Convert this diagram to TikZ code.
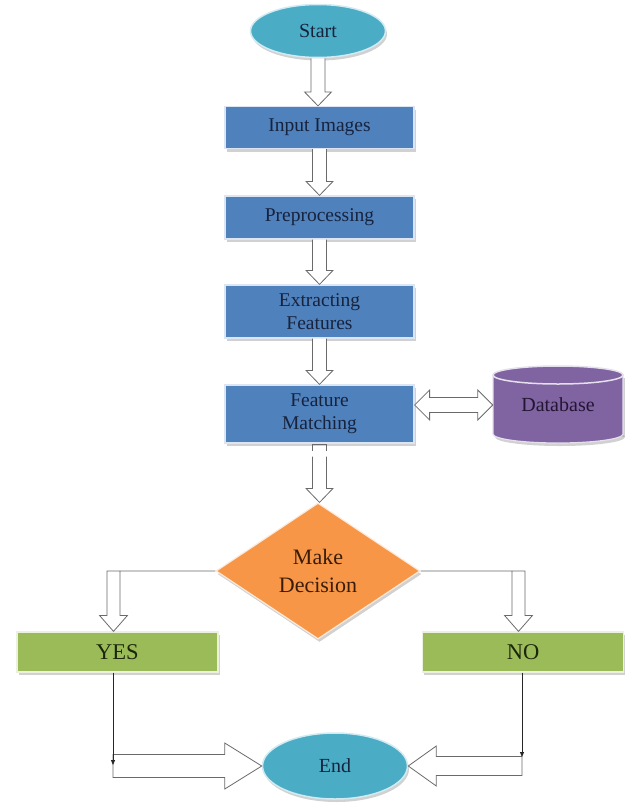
\documentclass[tikz,border=0pt]{standalone}
\usepackage{fontspec}
\setmainfont{LiberationSerif}[Extension=.ttf, UprightFont=*-Regular, BoldFont=*-Bold]
\usetikzlibrary{shapes.geometric,shadows,calc,arrows.meta}
\definecolor{boxblue}{HTML}{4F81BD}
\definecolor{navytext}{HTML}{17233D}
\definecolor{termteal}{HTML}{4BACC6}
\definecolor{dbpurple}{HTML}{8064A2}
\definecolor{dbtext}{HTML}{231533}
\definecolor{decorange}{HTML}{F79646}
\definecolor{dectext}{HTML}{3A1C08}
\definecolor{resgreen}{HTML}{9BBB59}
\definecolor{restext}{HTML}{1B260C}
\definecolor{arrowgray}{HTML}{6A6A6A}
\newcommand{\blkdown}[2]{%
  \draw[blockarrow] let \p1=(#1), \p2=(#2) in
    (\x1-7pt,\y1) -- (\x1-7pt,\y2+14pt) -- (\x1-13.5pt,\y2+14pt) -- (\x1,\y2)
    -- (\x1+13.5pt,\y2+14pt) -- (\x1+7pt,\y2+14pt) -- (\x1+7pt,\y1);}
\begin{document}
\begin{tikzpicture}[x=1pt,y=-1pt,
  shade/.style={drop shadow={shadow xshift=1.5pt,shadow yshift=-3pt,fill=black!40,opacity=0.45}},
  procbox/.style={rectangle, fill=boxblue, draw=white!80!boxblue, line width=1.2pt,
    minimum width=189pt, inner sep=0pt, text=navytext, align=center,
    font=\rmfamily\fontsize{19.5}{23}\selectfont, shade},
  term/.style={ellipse, fill=termteal, draw=white!75!termteal, line width=1.5pt,
    inner sep=0pt, text=navytext, font=\rmfamily\fontsize{20}{24}\selectfont, shade},
  decision/.style={diamond, fill=decorange, draw=white!80!decorange, line width=1.2pt,
    minimum width=204pt, minimum height=136pt, inner sep=0pt, align=center,
    text=dectext, font=\rmfamily\fontsize{22}{28}\selectfont, shade},
  resbox/.style={rectangle, fill=resgreen, draw=white!80!resgreen, line width=1.2pt,
    minimum width=201pt, minimum height=40pt, inner sep=0pt, text=restext,
    font=\rmfamily\fontsize{22.5}{26}\selectfont, shade},
  dbnode/.style={rectangle, minimum width=130pt, minimum height=75pt, inner sep=0pt,
    text=dbtext, font=\rmfamily\fontsize{20}{24}\selectfont},
  blockarrow/.style={draw=arrowgray, fill=white, line width=0.8pt, line join=miter},
  thinline/.style={draw=black!85, line width=0.8pt}
]
\useasboundingbox (0,0) rectangle (624,803);

% database cylinder drawing
\fill[black!40, opacity=0.45] (495,378) rectangle (625,437);
\fill[black!40, opacity=0.45] (560,437) ellipse [x radius=65pt, y radius=9pt];
\fill[dbpurple] (493,375) rectangle (623,434);
\fill[dbpurple] (558,434) ellipse [x radius=65pt, y radius=9pt];
\draw[white!80!dbpurple, line width=1.2pt] (493,375) -- (493,434)
  arc[start angle=180, end angle=360, x radius=65pt, y radius=9pt] -- (623,375);
\draw[white!80!dbpurple, line width=1.5pt, fill=dbpurple] (558,375) ellipse [x radius=65pt, y radius=9pt];

% nodes
\node[term, minimum width=135pt, minimum height=53pt] (start) at (318,31) {Start};
\node[procbox, minimum height=42pt] (inp) at (319.5,127.5) {Input Images};
\node[procbox, minimum height=43pt] (pre) at (319.5,217.5) {Preprocessing};
\node[procbox, minimum height=53pt] (ext) at (319.5,311.5) {Extracting\\Features};
\node[procbox, minimum height=58pt] (fm) at (319.5,414) {Feature\\Matching};
\node[dbnode] (db) at (558,405) {Database};
\node[decision] (dec) at (318,571) {Make\\Decision};
\node[resbox] (yes) at (117.5,652) {YES};
\node[resbox] (no) at (523,652) {NO};
\node[term, minimum width=145pt, minimum height=66pt] (end) at (335,766) {End};

% main flow block arrows
\blkdown{start.south}{inp.north}
\blkdown{inp.south}{pre.north}
\blkdown{pre.south}{ext.north}
\blkdown{ext.south}{fm.north}
\draw[blockarrow, fill=none] ($(fm.south)+(-7,7)$) -- ($(fm.south)+(-7,1)$) -- ($(fm.south)+(7,1)$) -- ($(fm.south)+(7,7)$);
\blkdown{$(fm.south)+(0,13)$}{dec.north}

% double arrow to database
\draw[blockarrow] let \p1=(fm.east), \p2=(db.west) in
  (\x1,\y2) -- (\x1+15pt,\y2+15pt) -- (\x1+15pt,\y2+7.5pt) -- (\x2-15pt,\y2+7.5pt)
  -- (\x2-15pt,\y2+15pt) -- (\x2,\y2) -- (\x2-15pt,\y2-15pt) -- (\x2-15pt,\y2-7.5pt)
  -- (\x1+15pt,\y2-7.5pt) -- (\x1+15pt,\y2-15pt) -- cycle;

% decision branches
\draw[blockarrow] let \p1=(dec.west), \p2=(yes.north) in
  (\p1) -- (\x2-10.5pt,\y1) -- (\x2-10.5pt,\y2+16pt) -- (\x2-18pt,\y2+16pt) -- (\x2-4pt,\y2)
  -- (\x2+10pt,\y2+16pt) -- (\x2+2.5pt,\y2+16pt) -- (\x2+2.5pt,\y1);
\draw[blockarrow] let \p1=(dec.east), \p2=(no.north) in
  (\p1) -- (\x2+2pt,\y1) -- (\x2+2pt,\y2+16pt) -- (\x2+9.5pt,\y2+16pt) -- (\x2-4.5pt,\y2)
  -- (\x2-18.5pt,\y2+16pt) -- (\x2-11pt,\y2+16pt) -- (\x2-11pt,\y1);

% bottom arrows to End
\draw[blockarrow] let \p1=(yes.south), \p2=(end.west) in
  (\x1-4.5pt,\y2+11.5pt) -- (\x2-37pt,\y2+11.5pt) -- (\x2-37pt,\y2+23pt) -- (\p2)
  -- (\x2-37pt,\y2-23pt) -- (\x2-37pt,\y2-11.5pt) -- (\x1-4.5pt,\y2-11.5pt) -- cycle;
\draw[thinline, -{Triangle[length=5pt,width=4pt]}] let \p1=(yes.south), \p2=(end.west) in
  (\x1-4.5pt,\y1) -- (\x1-4.5pt,\y2+1pt);
\draw[blockarrow] let \p1=(no.south), \p2=(end.east) in
  (\x1-1pt,\y2+9.5pt) -- (\x2+28pt,\y2+9.5pt) -- (\x2+28pt,\y2+20pt) -- (\p2)
  -- (\x2+28pt,\y2-20pt) -- (\x2+28pt,\y2-9.5pt) -- (\x1-1pt,\y2-9.5pt) -- cycle;
\draw[thinline, -{Triangle[length=5pt,width=4pt]}] let \p1=(no.south), \p2=(end.east) in
  (\x1-1pt,\y1) -- (\x1-1pt,\y2+9pt);
\end{tikzpicture}
\end{document}
